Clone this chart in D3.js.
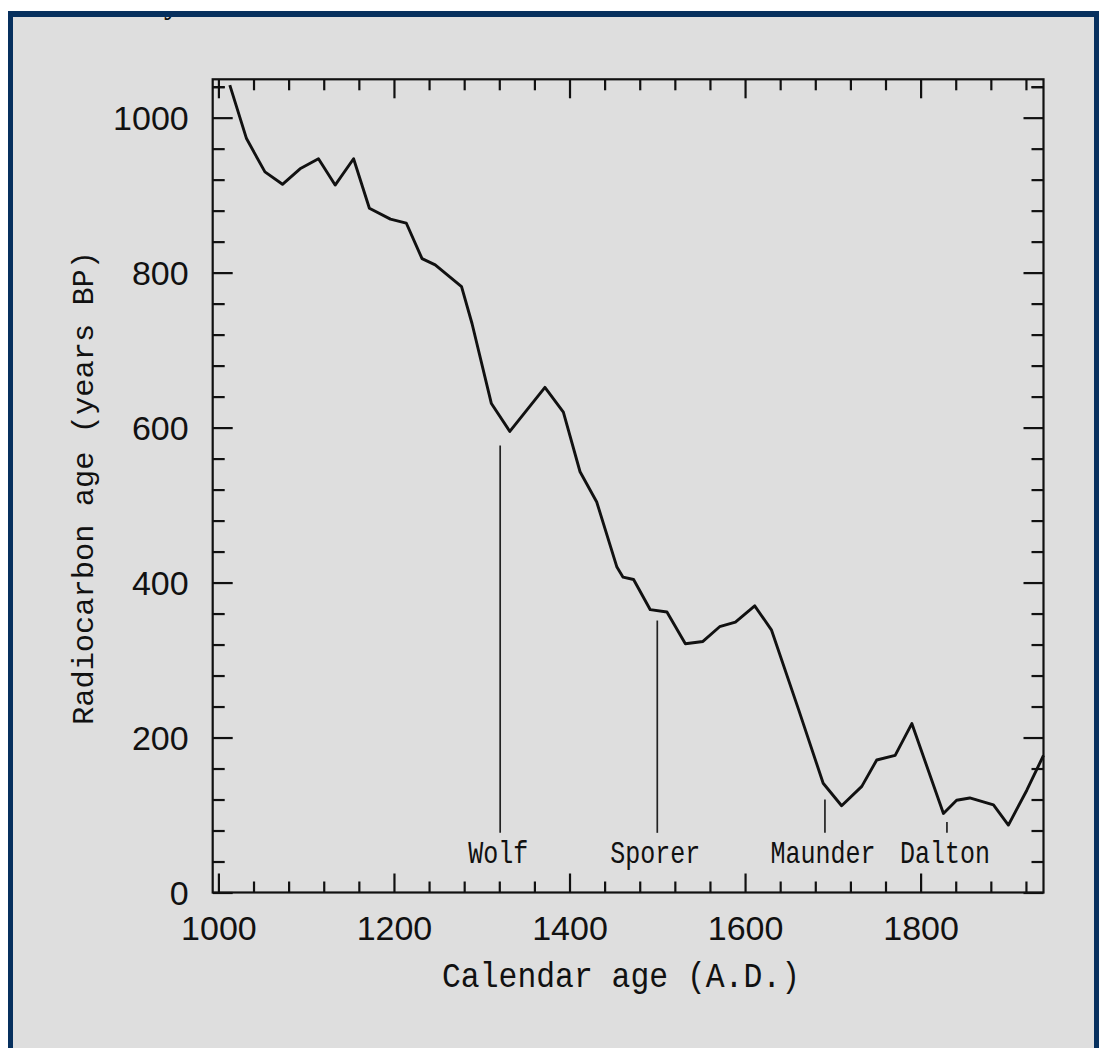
<!DOCTYPE html>
<html>
<head>
<meta charset="utf-8">
<script src="https://cdn.jsdelivr.net/npm/d3@7"></script>
<style>
  html, body { margin: 0; padding: 0; background: #fff; }
  svg { display: block; }
</style>
</head>
<body>
<svg id="chart"></svg>
<script>
const W = 1099, H = 1048;

// calibration curve: calendar year (A.D.) -> radiocarbon age (years BP)
const calYears = [1013, 1032, 1053, 1073, 1093, 1114, 1133, 1154, 1172, 1196, 1214, 1232,
  1247, 1277, 1289, 1311, 1332, 1372, 1393, 1412, 1431, 1454, 1461, 1473, 1492, 1511,
  1532, 1552, 1571, 1589, 1611, 1630, 1661, 1689, 1710, 1733, 1750, 1771, 1790, 1826,
  1841, 1856, 1883, 1900, 1921, 1940];
const c14Ages = [1042, 973, 930, 914, 934, 947, 913, 947, 883, 869, 864, 818,
  810, 782, 734, 631, 595, 652, 620, 543, 504, 420, 407, 404, 365, 362,
  321, 324, 343, 349, 370, 339, 236, 141, 112, 137, 171, 177, 218, 102,
  119, 122, 113, 87, 132, 177];

// solar minima markers
const minimaNames = ['Wolf', 'Sporer', 'Maunder', 'Dalton'];
const minimaYears = [1321, 1500, 1691, 1830];
const minimaTops = [577, 351, 120, 91];
const minimaBase = 77;

// ticks
const xMajor = [1000, 1200, 1400, 1600, 1800];
const xMinor = d3.range(1000, 1921, 40).filter(v => !xMajor.includes(v));
const yMajor = [0, 200, 400, 600, 800, 1000];
const yMinor = d3.range(0, 1041, 40).filter(v => !yMajor.includes(v));

const INK = '#111';
const NUM_FONT = '"Liberation Sans", Arial, sans-serif';
const MONO_FONT = '"Liberation Mono", "Courier New", monospace';

const svg = d3.select('#chart').attr('width', W).attr('height', H);

// page + frame
svg.append('rect').attr('width', W).attr('height', H).attr('fill', '#fff');
svg.append('rect').attr('x', 13).attr('y', 17).attr('width', 1081).attr('height', H - 17)
  .attr('fill', '#dedede');
// cut-off caption glyph peeking under the top border
svg.append('clipPath').attr('id', 'inside')
  .append('rect').attr('x', 13).attr('y', 17).attr('width', 1081).attr('height', H - 17);
svg.append('text').attr('clip-path', 'url(#inside)')
  .attr('x', 164).attr('y', 14).attr('font-family', '"Liberation Serif", serif')
  .attr('font-size', 30).attr('font-weight', 'bold').attr('fill', INK).text('y');
const navy = '#07305e';
svg.append('rect').attr('x', 8).attr('y', 11).attr('width', W - 8).attr('height', 6).attr('fill', navy);
svg.append('rect').attr('x', 8).attr('y', 11).attr('width', 5).attr('height', H - 11).attr('fill', navy);
svg.append('rect').attr('x', 1094).attr('y', 11).attr('width', 5).attr('height', H - 11).attr('fill', navy);

const x = d3.scaleLinear().domain([993.5, 1940]).range([212.7, 1043.5]);
const y = d3.scaleLinear().domain([0, 1049.5]).range([892.5, 79.3]);

function tidy(g) {
  g.select('.domain').remove();
  g.selectAll('line').attr('stroke', INK).attr('stroke-width', 2.2);
  g.attr('font-family', NUM_FONT).attr('font-size', 34).attr('color', INK);
}

const plotBottom = y(0), plotTop = y(1049.5), plotLeft = x(993.5), plotRight = x(1940);

// bottom axis
svg.append('g').attr('transform', `translate(0,${plotBottom})`)
  .call(d3.axisBottom(x).tickValues(xMinor).tickSize(-11).tickFormat('')).call(tidy);
svg.append('g').attr('transform', `translate(0,${plotBottom})`)
  .call(d3.axisBottom(x).tickValues(xMajor).tickSize(-19).tickPadding(23).tickFormat(d3.format('d')))
  .call(tidy);
// top axis
svg.append('g').attr('transform', `translate(0,${plotTop})`)
  .call(d3.axisTop(x).tickValues(xMinor).tickSize(-11).tickFormat('')).call(tidy);
svg.append('g').attr('transform', `translate(0,${plotTop})`)
  .call(d3.axisTop(x).tickValues(xMajor).tickSize(-19).tickFormat('')).call(tidy);
// left axis
svg.append('g').attr('transform', `translate(${plotLeft},0)`)
  .call(d3.axisLeft(y).tickValues(yMinor.concat([1040])).tickSize(-12).tickFormat('')).call(tidy);
const yl = svg.append('g').attr('transform', `translate(${plotLeft},0)`)
  .call(d3.axisLeft(y).tickValues(yMajor).tickSize(-20).tickPadding(24).tickFormat(d3.format('d')))
  .call(tidy);
yl.selectAll('text').attr('dy', '0.36em');
// right axis
svg.append('g').attr('transform', `translate(${plotRight},0)`)
  .call(d3.axisRight(y).tickValues(yMinor.concat([1040])).tickSize(-12).tickFormat('')).call(tidy);
svg.append('g').attr('transform', `translate(${plotRight},0)`)
  .call(d3.axisRight(y).tickValues(yMajor).tickSize(-20).tickFormat('')).call(tidy);

// plot frame
svg.append('rect').attr('x', plotLeft).attr('y', plotTop)
  .attr('width', plotRight - plotLeft).attr('height', plotBottom - plotTop)
  .attr('fill', 'none').attr('stroke', INK).attr('stroke-width', 2.2);

// curve
const pts = calYears.map((yr, i) => [yr, c14Ages[i]]);
svg.append('path').datum(pts)
  .attr('d', d3.line().x(d => x(d[0])).y(d => y(d[1])))
  .attr('fill', 'none').attr('stroke', INK).attr('stroke-width', 2.9).attr('stroke-linejoin', 'round');

// minima markers
const minima = minimaNames.map((n, i) => ({ name: n, year: minimaYears[i], top: minimaTops[i] }));
svg.selectAll('line.minimum').data(minima).join('line').attr('class', 'minimum')
  .attr('x1', d => x(d.year)).attr('x2', d => x(d.year))
  .attr('y1', y(minimaBase)).attr('y2', d => y(d.top))
  .attr('stroke', '#222').attr('stroke-width', 1.7);
svg.selectAll('text.minimum').data(minima).join('text').attr('class', 'minimum')
  .attr('transform', d => `translate(${x(d.year) - 2},${y(0) - 30}) scale(1,1.22)`)
  .attr('text-anchor', 'middle').attr('font-family', MONO_FONT).attr('font-size', 25)
  .attr('fill', INK).text(d => d.name);

// axis titles
svg.append('text').attr('transform', 'translate(621,987) scale(1,1.1)').attr('text-anchor', 'middle')
  .attr('font-family', MONO_FONT).attr('font-size', 31.4).attr('fill', INK)
  .text('Calendar age (A.D.)');
svg.append('text').attr('transform', 'translate(93,488) rotate(-90)').attr('text-anchor', 'middle')
  .attr('font-family', MONO_FONT).attr('font-size', 30.4).attr('fill', INK)
  .text('Radiocarbon age (years BP)');
</script>
</body>
</html>
